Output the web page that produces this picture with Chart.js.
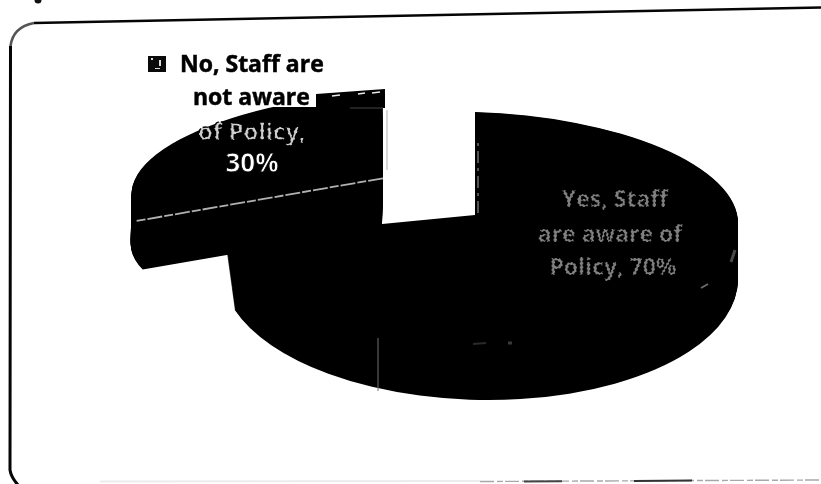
<!DOCTYPE html>
<html>
<head>
<meta charset="utf-8">
<style>
  html, body { margin: 0; padding: 0; background: #fff; }
  canvas { display: block; }
</style>
<script src="https://cdn.jsdelivr.net/npm/chart.js@4/dist/chart.umd.min.js"></script>
</head>
<body>
<canvas id="chartPolicy" width="821" height="484"></canvas>
<script>
const categories = ['Yes, Staff are aware of Policy', 'No, Staff are not aware of Policy']
const shares = [70, 30]

const sliceColor = '#000000'
const labelFont = '"Open Sans", "Noto Sans", sans-serif'

// how each slice is laid over on its side: top face and base ring
const tilt = [
  {
    top: { spanX: 263, skew: 8, spanY: 103, lift: 2, shift: 0 },
    base: { spanX: 258, skew: 4, spanY: 125, lift: 62, shift: 5 },
  },
  {
    top: { spanX: 246, skew: -15, spanY: 85, lift: -18, shift: -4 },
    base: { spanX: 246, skew: -15, spanY: 85, lift: 32, shift: -5 },
  },
]

const mix = (a, b, t) => a + (b - a) * t

const applyTilt = (ctx, arc, p) => {
  const r = arc.outerRadius
  ctx.translate(arc.x + (p.shift || 0), arc.y + p.lift)
  ctx.transform(p.spanX / r, p.skew / r, 0, p.spanY / r, 0, 0)
  ctx.translate(-arc.x, -arc.y)
}

const strokeLine = (ctx, x1, y1, x2, y2, color, width, dash) => {
  ctx.save()
  ctx.strokeStyle = color
  ctx.lineWidth = width
  ctx.setLineDash(dash || [])
  ctx.beginPath()
  ctx.moveTo(x1, y1)
  ctx.lineTo(x2, y2)
  ctx.stroke()
  ctx.restore()
}

// line along one edge of a slice, in the slice's tilted plane
const strokeEdge = (ctx, arc, p, angle, from, to, color, width, dash) => {
  const halfAngle = (arc.startAngle + arc.endAngle) / 2
  const off = (arc.options.offset || 0) / 4
  const cx = Math.cos(halfAngle) * off
  const cy = Math.sin(halfAngle) * off
  const ex = Math.cos(angle) * arc.outerRadius
  const ey = Math.sin(angle) * arc.outerRadius
  ctx.save()
  applyTilt(ctx, arc, p)
  const a = new DOMPoint(arc.x + cx + ex * from, arc.y + cy + ey * from).matrixTransform(ctx.getTransform())
  const b = new DOMPoint(arc.x + cx + ex * to, arc.y + cy + ey * to).matrixTransform(ctx.getTransform())
  ctx.restore()
  strokeLine(ctx, a.x, a.y, b.x, b.y, color, width, dash)
}

const pageFrame = {
  id: 'pageFrame',
  beforeDraw: chart => {
    const ctx = chart.ctx
    ctx.save()
    ctx.fillStyle = '#ffffff'
    ctx.fillRect(0, 0, chart.width, chart.height)

    ctx.strokeStyle = '#050505'
    ctx.lineWidth = 2.6
    ctx.beginPath()
    ctx.moveTo(821, 7.5)
    ctx.lineTo(34, 23)
    ctx.stroke()

    ctx.strokeStyle = '#555555'
    ctx.beginPath()
    ctx.moveTo(34, 23)
    ctx.quadraticCurveTo(13, 27, 10.5, 46)
    ctx.stroke()

    ctx.strokeStyle = '#050505'
    ctx.lineWidth = 3
    ctx.beginPath()
    ctx.moveTo(10.5, 46)
    ctx.lineTo(10, 470)
    ctx.quadraticCurveTo(11, 477, 18, 485)
    ctx.stroke()

    // faint rule along the foot of the frame
    strokeLine(ctx, 100, 481.5, 480, 481, '#ececec', 2)
    strokeLine(ctx, 480, 481.5, 821, 480, '#a8a8a8', 1.4, [14, 3, 6, 2])
    strokeLine(ctx, 524, 481.5, 562, 481.2, '#444444', 2)
    strokeLine(ctx, 634, 481, 692, 480.4, '#333333', 2)

    ctx.fillStyle = '#111111'
    ctx.beginPath()
    ctx.arc(38, 0, 3.5, 0, Math.PI * 2)
    ctx.fill()
    ctx.restore()
  },
}

// white backing of the upper label, it cuts the slice off flat
const drawWhiteBox = ctx => {
  ctx.save()
  ctx.fillStyle = '#ffffff'
  ctx.fillRect(120, 60, 270, 47)
  ctx.fillStyle = '#000000'
  ctx.beginPath()
  ctx.moveTo(316, 94)
  ctx.lineTo(385, 89)
  ctx.lineTo(385, 108)
  ctx.lineTo(316, 108)
  ctx.closePath()
  ctx.fill()
  ctx.restore()
}

// worn-out print: the glyphs are broken up by a dashed black pass
const wornText = (ctx, text, x, y, dash) => {
  ctx.save()
  ctx.filter = 'blur(0.7px)'
  ctx.fillText(text, x, y)
  ctx.filter = 'none'
  ctx.strokeStyle = '#000000'
  ctx.lineWidth = 1.5
  ctx.setLineDash(dash)
  ctx.strokeText(text, x, y)
  ctx.restore()
}

const drawLabels = chart => {
  const ctx = chart.ctx
  ctx.save()
  ctx.textBaseline = 'middle'

  // legend key of the upper label
  ctx.fillStyle = '#0a0a0a'
  ctx.fillRect(148, 56, 18, 16)
  ctx.fillStyle = '#dddddd'
  ctx.fillRect(151, 58, 2, 2)
  ctx.fillRect(159, 60, 2, 6)
  ctx.fillRect(155, 68, 5, 1)

  ctx.fillStyle = '#000000'
  ctx.strokeStyle = '#000000'
  ctx.lineWidth = 0.5
  ctx.font = `bold 23px ${labelFont}`
  ctx.textAlign = 'left'
  ctx.fillText('No, Staff are', 180, 65)
  ctx.strokeText('No, Staff are', 180, 65)
  ctx.fillText('not aware', 193, 98)
  ctx.strokeText('not aware', 193, 98)

  // flecks left in the black edge beside the second line
  strokeLine(ctx, 332, 96, 340, 95, '#e8e8e8', 1.4)
  strokeLine(ctx, 358, 94, 365, 93, '#e8e8e8', 1.4)
  strokeLine(ctx, 372, 93, 380, 92, '#e8e8e8', 1.4)
  strokeLine(ctx, 350, 108, 383, 108, '#444444', 1)
  strokeLine(ctx, 387, 110, 387, 170, '#bdbdbd', 1.2)

  ctx.textAlign = 'center'
  ctx.fillStyle = '#cfcfcf'
  ctx.font = `bold 24px ${labelFont}`
  wornText(ctx, 'of Policy,', 252, 133, [5, 2])

  ctx.fillStyle = '#ffffff'
  ctx.font = `bold 26px ${labelFont}`
  ctx.fillText(`${shares[1]}%`, 252, 165)
  ctx.strokeStyle = '#000000'
  ctx.lineWidth = 0.8
  ctx.strokeText(`${shares[1]}%`, 252, 165)

  ctx.fillStyle = '#808080'
  ctx.font = `bold 23px ${labelFont}`
  wornText(ctx, 'Yes, Staff', 615, 200, [2, 2])
  wornText(ctx, 'are aware of', 610, 235, [2, 2])
  wornText(ctx, `Policy, ${shares[0]}%`, 613, 268, [2, 2])
  ctx.restore()
}

const tiltedPie = {
  id: 'tiltedPie',
  // the arcs are drawn here, so the default flat pass is cancelled
  beforeDatasetsDraw: chart => {
    const ctx = chart.ctx
    const arcs = chart.getDatasetMeta(0).data
    const layerCount = 70

    const drawSlice = i => {
      const arc = arcs[i]
      const { top, base } = tilt[i]
      for (let n = layerCount; n >= 0; n--) {
        const t = n / layerCount
        const p = {
          spanX: mix(top.spanX, base.spanX, t),
          skew: mix(top.skew, base.skew, t),
          spanY: mix(top.spanY, base.spanY, t),
          lift: mix(top.lift, base.lift, t),
          shift: mix(top.shift, base.shift, t),
        }
        ctx.save()
        applyTilt(ctx, arc, p)
        arc.draw(ctx)
        ctx.restore()
      }
    }

    drawSlice(1)

    // seams left pale on the black slices
    strokeEdge(ctx, arcs[1], tilt[1].top, arcs[1].startAngle, 0, 1.06, '#b0b0b0', 1.8, [15, 2, 9, 2])

    drawWhiteBox(ctx)
    drawSlice(0)

    strokeEdge(ctx, arcs[0], { ...tilt[0].top, shift: 3 }, arcs[0].startAngle, 0.02, 0.72, '#8a8a8a', 1.2, [12, 5, 3, 5])
    strokeLine(ctx, 378, 338, 378, 391, '#707070', 1)
    strokeLine(ctx, 473, 344, 486, 343, '#2a2a2a', 2)
    strokeLine(ctx, 508, 343, 512, 343, '#3a3a3a', 3)
    strokeLine(ctx, 701, 288, 708, 284, '#6a6a6a', 2)
    strokeLine(ctx, 731, 262, 735, 250, '#4a4a4a', 3)
    return false
  },
  afterDraw: chart => {
    drawLabels(chart)
  },
}

const data = {
  labels: categories,
  datasets: [
    {
      data: shares,
      backgroundColor: sliceColor,
      borderWidth: 0,
      hoverOffset: 0,
      offset: [0, 200],
    },
  ],
}

const options = {
  animation: false,
  responsive: false,
  events: [],
  layout: {
    padding: { left: 129, right: 0, top: 0, bottom: 58 },
  },
  plugins: {
    legend: { display: false },
    tooltip: { enabled: false },
  },
}

new Chart(document.getElementById('chartPolicy'), {
  type: 'pie',
  data,
  plugins: [pageFrame, tiltedPie],
  options,
})
</script>
</body>
</html>
